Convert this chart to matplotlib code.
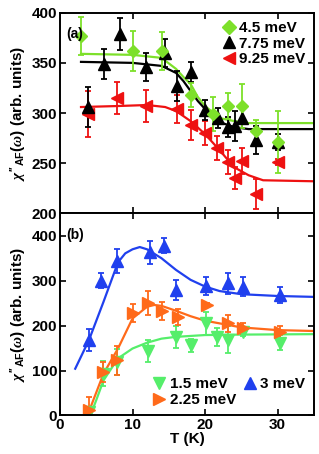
import numpy as np
import matplotlib
matplotlib.use("Agg")
import matplotlib.pyplot as plt
from matplotlib.lines import Line2D

plt.rcParams['font.family'] = ['Liberation Sans', 'DejaVu Sans']
plt.rcParams['font.weight'] = 'bold'
plt.rcParams['mathtext.fontset'] = 'custom'
plt.rcParams['mathtext.rm'] = 'Liberation Sans:bold'
plt.rcParams['mathtext.it'] = 'Liberation Serif:italic'

# ---- panel (a) data ----
t_45 = [2.9, 10.1, 14.1, 18.0, 21.1, 23.1, 25.1, 27.0, 30.1]
y_45 = [377, 362, 362, 318, 299, 307, 307, 282, 271]
e_45 = [19, 20, 19, 12, 17, 13, 22, 11, 31]

t_775 = [3.9, 6.0, 8.3, 11.8, 14.5, 16.1, 18.0, 20.0, 21.8, 23.2, 24.1, 25.1, 27.0, 30.1]
y_775 = [306, 349, 379, 346, 360, 327, 341, 303, 295, 286, 287, 295, 273, 271]
e_775 = [20, 15, 16, 14, 14, 15, 10, 10, 10, 10, 15, 10, 14, 8]

t_925 = [3.9, 7.8, 11.8, 16.1, 18.0, 20.0, 21.6, 23.1, 24.1, 25.1, 27.0, 30.1]
y_925 = [299, 315, 307, 304, 288, 280, 265, 251, 235, 252, 219, 251]
e_925 = [23, 16, 16, 14, 15, 12, 12, 12, 11, 13, 15, 3]

# fit curves
ft_45 = [2.9, 10, 14, 16, 17, 18, 19, 20, 21, 22, 24, 26, 35]
fy_45 = [359, 358, 355, 344, 336, 329, 316, 307, 301, 295, 292, 290, 290]
ft_775 = [2.9, 10, 14, 16, 17, 18, 19, 20, 21, 22, 24, 26, 35]
fy_775 = [351, 350, 347, 340, 332, 322, 312, 304, 296, 291, 286, 284, 284]
ft_925 = [2.9, 8, 12, 14.5, 16, 18, 20, 22, 24, 26, 28, 35]
fy_925 = [306, 307, 308, 306, 302, 292, 279, 263, 246, 238, 233, 232]

# ---- panel (b) data ----
t_3 = [4.0, 5.7, 7.9, 12.4, 14.4, 16.0, 20.1, 23.1, 25.2, 30.3]
y_3 = [168, 300, 344, 363, 378, 279, 289, 294, 287, 268]
e_3 = [25, 17, 26, 25, 17, 23, 20, 23, 21, 18]

t_225 = [4.0, 5.9, 7.9, 10.1, 12.2, 14.1, 16.3, 20.3, 23.1, 25.2, 30.3]
y_225 = [13, 97, 123, 229, 250, 233, 220, 247, 205, 194, 186]
e_225 = [27, 22, 32, 20, 26, 20, 18, 4, 19, 12, 14]

t_15 = [4.0, 5.9, 7.9, 12.2, 16.0, 18.1, 20.1, 21.6, 23.1, 25.2, 30.3]
y_15 = [8, 93, 119, 144, 175, 156, 205, 174, 169, 186, 162]
e_15 = [10, 28, 28, 24, 24, 15, 26, 20, 30, 10, 17]

ft_3 = [2.1, 4, 6, 8, 9, 10, 11, 12, 14, 16, 18, 20, 22, 25, 30, 35]
fy_3 = [104, 168, 253, 341, 361, 370, 375, 370, 350, 324, 302, 287, 277, 270, 266, 264]
ft_225 = [3.8, 4.5, 6, 8, 10, 12, 13, 14, 16, 18, 20, 25, 30, 35]
fy_225 = [0, 30, 93, 149, 216, 242, 246, 244, 233, 221, 211, 196, 190, 188]
ft_15 = [4.2, 5, 6, 8, 10, 12, 14, 16, 20, 25, 35]
fy_15 = [0, 34, 78, 127, 149, 162, 171, 175, 179, 180, 181]

c_green_a = '#7de02a'
c_green_b = '#55ee6a'
c_red = '#ee1111'
c_blue = '#2040ee'
c_orange = '#ff6a1a'

fig = plt.figure(figsize=(3.19, 4.54), dpi=100)
ax1 = fig.add_axes([0.188, 0.530, 0.796, 0.442])
ax2 = fig.add_axes([0.188, 0.085, 0.796, 0.445])

def style(ax):
    ax.tick_params(direction='in', top=True, right=True, labelsize=11, width=1.2, length=4, pad=2)
    for s in ax.spines.values():
        s.set_linewidth(1.4)
    for lab in ax.get_xticklabels() + ax.get_yticklabels():
        lab.set_fontweight('bold')

ekw = dict(capsize=2, elinewidth=1.3, capthick=1.3, linestyle='none')
lkw = dict(frameon=False, handletextpad=0.2, labelspacing=0.1, borderaxespad=0.15,
           handlelength=1.0, prop={'weight': 'bold', 'size': 11})

def mk(marker, color, ms=8):
    return Line2D([], [], marker=marker, color=color, ms=ms, linestyle='none')

# (a)
ax1.plot(ft_45, fy_45, color=c_green_a, lw=1.6)
ax1.plot(ft_775, fy_775, color='black', lw=1.6)
ax1.plot(ft_925, fy_925, color=c_red, lw=1.6)
ax1.errorbar(t_925, y_925, yerr=e_925, fmt='<', color=c_red, ms=8, **ekw)
ax1.errorbar(t_775, y_775, yerr=e_775, fmt='^', color='black', ms=8, **ekw)
ax1.errorbar(t_45, y_45, yerr=e_45, fmt='D', color=c_green_a, ms=6.5, **ekw)
ax1.legend([mk('D', c_green_a, 7), mk('^', 'black'), mk('<', c_red)],
           ['4.5 meV', '7.75 meV', '9.25 meV'], loc='upper right', **lkw)
ax1.set_xlim(0, 35)
ax1.set_ylim(200, 400)
ax1.set_yticks([200, 250, 300, 350, 400])
ax1.set_xticks([10, 20, 30])
ax1.set_xticklabels([])
ax1.text(0.025, 0.93, '(a)', transform=ax1.transAxes, fontsize=10, fontweight='bold', va='top')
style(ax1)

# (b)
ax2.plot(ft_15, fy_15, color=c_green_b, lw=1.6)
ax2.plot(ft_225, fy_225, color=c_orange, lw=1.6)
ax2.plot(ft_3, fy_3, color=c_blue, lw=1.6)
ax2.errorbar(t_15, y_15, yerr=e_15, fmt='v', color=c_green_b, ms=8, **ekw)
ax2.errorbar(t_225, y_225, yerr=e_225, fmt='>', color=c_orange, ms=8, **ekw)
ax2.errorbar(t_3, y_3, yerr=e_3, fmt='^', color=c_blue, ms=8, **ekw)
ax2.legend([mk('v', c_green_b), mk('>', c_orange), mk('^', c_blue)],
           ['1.5 meV', '2.25 meV', '3 meV'], ncol=2, loc='lower right',
           columnspacing=0.4, **lkw)
ax2.set_xlim(0, 35)
ax2.set_ylim(0, 450)
ax2.set_yticks([0, 100, 200, 300, 400])
ax2.set_xticks([0, 10, 20, 30])
ax2.set_xlabel('T (K)', fontsize=11, fontweight='bold', labelpad=0)
ax2.text(0.025, 0.93, '(b)', transform=ax2.transAxes, fontsize=10, fontweight='bold', va='top')
style(ax2)

ylab = r"$\chi''_{\mathrm{AF}}(\omega)$ (arb. units)"
ax1.set_ylabel(ylab, fontsize=11, fontweight='bold', labelpad=2)
ax2.set_ylabel(ylab, fontsize=11, fontweight='bold', labelpad=2)

fig.savefig('out.png', dpi=100)
